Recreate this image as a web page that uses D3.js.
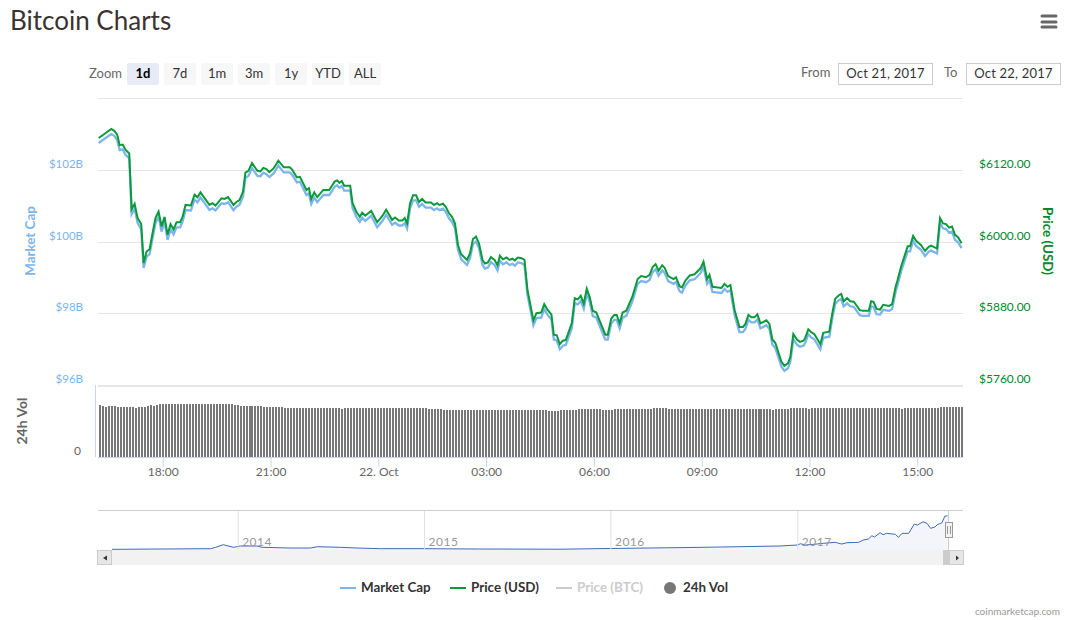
<!DOCTYPE html>
<html>
<head>
<meta charset="utf-8">
<script src="https://d3js.org/d3.v7.min.js"></script>
<style>
  body { margin: 0; background: #fff; }
  text { font-family: "Lato", sans-serif; }
  .grid line { stroke: #e6e6e6; }
  .domain { display: none; }
</style>
</head>
<body>
<div id="chart"></div>
<script>
// minutes after 16:11 on Oct 21 for each point
var minutes = [
  2,12,23,28,33,37,42,47,53,57,62,67,73,77,82,87,92,97,102,107,
  112,117,122,127,132,138,142,147,156,162,167,172,177,187,192,197,207,212,218,227,
  232,237,243,247,252,258,267,272,277,282,287,294,302,311,321,325,333,338,349,353,
  357,362,367,377,387,396,400,404,408,412,422,426,432,438,442,447,457,467,476,482,
  492,497,503,509,513,517,522,527,532,537,542,548,557,562,567,571,577,582,587,592,
  597,602,607,617,622,627,632,637,643,647,652,657,663,668,672,677,683,688,693,697,
  702,708,713,718,728,733,741,746,752,758,762,767,772,777,782,792,797,802,807,812,
  817,822,827,833,848,852,858,863,867,872,877,883,893,902,908,916,922,927,932,937,
  943,947,953,962,966,972,976,982,989,997,1007,1012,1018,1022,1027,1042,1047,1052,1057,1064,
  1072,1078,1082,1087,1092,1097,1102,1107,1117,1122,1127,1132,1142,1147,1153,1157,1162,1168,1173,1179,
  1182,1187,1192,1197,1207,1212,1222,1228,1232,1238,1242,1246,1252,1257,1263,1273,1278,1288,1292,1296,
  1301,1307,1312,1322,1327,1333,1336,1342,1353,1357,1362,1367,1375,1382,1388,1392,1402,1407,1412,1417,
  1422,1427,1432,1437,1443
];

var priceUsd = [
  6174,6181,6189,6186,6179,6162,6163,6154,6148,6055,6064,6040,6030,5965,5984,5988,6015,6041,6051,6026,
  6042,6012,6030,6021,6033,6033,6042,6062,6061,6079,6075,6083,6076,6062,6065,6061,6073,6072,6075,6062,
  6067,6070,6084,6116,6119,6132,6119,6118,6124,6122,6117,6123,6136,6125,6125,6121,6108,6109,6087,6090,
  6072,6083,6075,6087,6087,6101,6103,6099,6102,6094,6094,6065,6051,6042,6049,6044,6052,6033,6044,6054,
  6037,6041,6036,6036,6040,6031,6065,6078,6078,6067,6072,6066,6066,6062,6065,6062,6064,6058,6048,6042,
  6031,5995,5980,5970,5981,6005,6009,5998,5970,5964,5966,5975,5970,5961,5977,5971,5974,5970,5972,5969,
  5974,5973,5970,5920,5869,5881,5882,5896,5886,5879,5845,5844,5829,5835,5836,5864,5906,5904,5910,5897,
  5922,5908,5885,5882,5845,5845,5872,5878,5878,5864,5882,5885,5908,5938,5943,5941,5945,5958,5963,5952,
  5961,5957,5943,5938,5941,5926,5924,5936,5944,5946,5956,5967,5938,5945,5925,5923,5930,5925,5928,5886,
  5858,5858,5863,5878,5874,5874,5879,5864,5869,5863,5837,5831,5800,5793,5797,5808,5846,5837,5833,5835,
  5840,5854,5849,5846,5829,5848,5850,5886,5905,5911,5913,5901,5906,5901,5900,5886,5885,5885,5901,5900,
  5888,5887,5895,5893,5896,5926,5936,5959,5993,5993,6010,6002,5995,5985,5992,5994,5989,6040,6031,6030,
  6024,6026,6012,6008,5998
];

// market cap in billions
var marketCap = [
  102.76,102.88,103.01,102.96,102.84,102.56,102.58,102.43,102.33,100.78,100.93,100.53,100.36,99.28,99.59,99.66,100.11,100.54,100.71,100.29,
  100.56,100.06,100.36,100.21,100.41,100.41,100.56,100.89,100.88,101.18,101.11,101.24,101.13,100.89,100.94,100.88,101.08,101.06,101.11,100.89,
  100.98,101.03,101.26,101.79,101.84,102.06,101.84,101.83,101.93,101.89,101.81,101.91,102.13,101.94,101.94,101.88,101.66,101.68,101.31,101.36,
  101.06,101.24,101.11,101.31,101.31,101.54,101.58,101.51,101.56,101.43,101.43,100.94,100.71,100.56,100.68,100.59,100.73,100.41,100.59,100.76,
  100.48,100.54,100.46,100.46,100.53,100.38,100.94,101.16,101.16,100.98,101.06,100.96,100.96,100.89,100.94,100.89,100.93,100.83,100.66,100.56,
  100.38,99.78,99.53,99.36,99.54,99.94,100.01,99.83,99.36,99.26,99.29,99.44,99.36,99.21,99.48,99.38,99.43,99.36,99.39,99.34,
  99.43,99.41,99.36,98.53,97.68,97.88,97.89,98.13,97.96,97.84,97.28,97.26,97.01,97.11,97.13,97.59,98.29,98.26,98.36,98.14,
  98.56,98.33,97.94,97.89,97.28,97.28,97.73,97.83,97.83,97.59,97.89,97.94,98.33,98.83,98.91,98.88,98.94,99.16,99.24,99.06,
  99.21,99.14,98.91,98.83,98.88,98.63,98.59,98.79,98.93,98.96,99.13,99.31,98.83,98.94,98.61,98.58,98.69,98.61,98.66,97.96,
  97.49,97.49,97.58,97.83,97.76,97.76,97.84,97.59,97.68,97.58,97.14,97.04,96.53,96.41,96.48,96.66,97.29,97.14,97.08,97.11,
  97.19,97.43,97.34,97.29,97.01,97.33,97.36,97.96,98.28,98.38,98.41,98.21,98.29,98.21,98.19,97.96,97.94,97.94,98.21,98.19,
  97.99,97.98,98.11,98.08,98.13,98.63,98.79,99.18,99.74,99.74,100.03,99.89,99.78,99.61,99.73,99.76,99.68,100.53,100.38,100.36,
  100.26,100.29,100.06,99.99,99.83
];

// 24h volume in billions, one bar every five minutes from 16:13
var volume = [
  2.00,1.96,1.93,1.96,1.96,1.96,1.93,1.93,1.93,1.93,
  1.93,1.93,1.89,1.93,1.93,1.93,1.96,2.00,1.96,2.00,
  2.04,2.04,2.04,2.04,2.04,2.04,2.04,2.04,2.04,2.04,
  2.04,2.04,2.04,2.04,2.04,2.04,2.04,2.04,2.04,2.04,
  2.04,2.04,2.04,2.04,2.04,2.00,2.00,1.96,1.96,1.96,
  1.96,1.96,1.96,1.96,1.96,1.93,1.93,1.93,1.93,1.93,
  1.93,1.93,1.89,1.89,1.89,1.89,1.89,1.89,1.89,1.89,
  1.89,1.89,1.89,1.88,1.88,1.88,1.88,1.88,1.88,1.88,
  1.88,1.85,1.88,1.88,1.88,1.88,1.88,1.88,1.88,1.88,
  1.88,1.88,1.88,1.88,1.88,1.88,1.88,1.88,1.88,1.88,
  1.88,1.88,1.88,1.88,1.88,1.88,1.88,1.88,1.88,1.88,
  1.85,1.85,1.85,1.85,1.85,1.81,1.81,1.81,1.81,1.81,
  1.81,1.81,1.81,1.81,1.81,1.81,1.81,1.81,1.81,1.81,
  1.81,1.81,1.81,1.81,1.81,1.81,1.81,1.81,1.81,1.81,
  1.81,1.81,1.81,1.81,1.81,1.81,1.81,1.81,1.81,1.81,
  1.77,1.77,1.77,1.77,1.81,1.81,1.81,1.81,1.81,1.81,
  1.85,1.85,1.85,1.85,1.85,1.85,1.85,1.85,1.81,1.81,
  1.81,1.81,1.85,1.85,1.85,1.85,1.85,1.85,1.85,1.85,
  1.85,1.85,1.85,1.85,1.85,1.89,1.89,1.89,1.89,1.89,
  1.85,1.85,1.85,1.85,1.85,1.85,1.85,1.85,1.85,1.85,
  1.85,1.85,1.85,1.85,1.85,1.85,1.85,1.85,1.85,1.85,
  1.85,1.85,1.85,1.85,1.85,1.85,1.85,1.85,1.85,1.85,
  1.85,1.85,1.85,1.85,1.85,1.81,1.85,1.85,1.85,1.85,
  1.85,1.89,1.89,1.89,1.89,1.89,1.89,1.85,1.89,1.89,
  1.89,1.89,1.89,1.89,1.89,1.89,1.89,1.89,1.89,1.89,
  1.89,1.89,1.89,1.89,1.89,1.89,1.89,1.89,1.89,1.89,
  1.89,1.89,1.89,1.89,1.89,1.89,1.89,1.89,1.85,1.89,
  1.89,1.89,1.89,1.89,1.89,1.89,1.89,1.89,1.89,1.89,
  1.89,1.93,1.93,1.93,1.93,1.93,1.93,1.93,1.93
];

// navigator series, whole history
var navDates = [
  "2013-04-30","2013-11-09","2013-11-19","2013-12-04","2013-12-24","2014-01-07","2014-02-08","2014-02-18","2014-04-15","2014-05-24",
  "2014-06-06","2014-07-21","2014-08-23","2014-10-08","2015-01-01","2015-04-20","2015-09-24","2016-01-01","2016-06-05","2016-08-03",
  "2016-11-28","2017-01-01","2017-01-07","2017-01-17","2017-02-02","2017-02-21","2017-03-16","2017-03-29","2017-04-08","2017-05-01",
  "2017-05-10","2017-05-20","2017-05-27","2017-06-01","2017-06-12","2017-06-18","2017-06-25","2017-07-12","2017-07-18","2017-07-25",
  "2017-08-07","2017-08-18","2017-08-24","2017-09-04","2017-09-12","2017-09-19","2017-09-28","2017-10-02","2017-10-11","2017-10-17",
  "2017-10-22"
];
var navCap = [
  2.0,3.8,7.9,15.5,7.9,11.7,11.7,7.9,5.8,5.8,
  9.6,7.9,5.8,3.8,3.8,2.9,2.3,4.4,7.3,8.7,
  11.7,14.6,18.4,14.6,16.6,19.5,22.4,17.5,21.3,22.4,
  29.2,32.1,41.7,37.9,50.4,44.6,48.7,45.8,37.0,48.7,
  48.7,75.8,72.9,82.5,77.8,63.3,67.9,73.8,79.6,99.1,
  100.0
];

var capTicks = [96, 98, 100, 102];
var priceTicks = [5760, 5880, 6000, 6120, 6240];
var timeTicks = ["10-21T18:00","10-21T21:00","10-22T00:00","10-22T03:00","10-22T06:00","10-22T09:00","10-22T12:00","10-22T15:00"];
var timeLabels = ["18:00","21:00","22. Oct","03:00","06:00","09:00","12:00","15:00"];
var navYears = ["2014","2015","2016","2017"];
var zoomButtons = ["1d","7d","1m","3m","1y","YTD","ALL"];
var legendItems = ["Market Cap","Price (USD)","Price (BTC)","24h Vol"];

var capColor = "#7cb5ec", priceColor = "#0a9a3a", priceText = "#008a2c", volColor = "#777777";

var svg = d3.select("#chart")
  .append("svg")
    .attr("width", 1070)
    .attr("height", 620)
    .style("display", "block");

var left = 98, right = 963;
var startTime = new Date(Date.UTC(2017, 9, 21, 16, 11));

function minutesToDate(m) {
  return new Date(startTime.getTime() + m * 60000);
}
function tickDate(s) {
  return new Date("2017-" + s + ":00Z");
}

var x = d3.scaleUtc()
  .domain([startTime, new Date(Date.UTC(2017, 9, 22, 16, 15, 30))])
  .range([left - 0.5, right - 0.5]);
var yPrice = d3.scaleLinear().domain([5760, 6240]).range([385.5, 98.5]);
var yCap = d3.scaleLinear().domain([96, 104]).range([385.5, 98.5]);
var yVol = d3.scaleLinear().domain([0, 2.77]).range([457, 385]);

// title and menu
svg.append("text").attr("x", 10).attr("y", 30)
  .style("font-size", "26px").style("fill", "#3a3330")
  .text("Bitcoin Charts");
svg.append("g").selectAll("line").data([16, 22, 27]).enter().append("line")
  .attr("x1", 1042).attr("x2", 1056).attr("y1", d => d).attr("y2", d => d)
  .attr("stroke", "#666").attr("stroke-width", 3).attr("stroke-linecap", "round");

// range selector
svg.append("text").attr("x", 89).attr("y", 78).style("font-size", "13px").style("fill", "#666").text("Zoom");
var btn = svg.append("g").selectAll("g").data(zoomButtons).enter().append("g")
  .attr("transform", (d, i) => "translate(" + (127 + i * 37) + ",63)");
btn.append("rect").attr("width", 32).attr("height", 22).attr("rx", 2)
  .attr("fill", (d, i) => i == 0 ? "#e6ebf5" : "#f7f7f7");
btn.append("text").attr("x", 16).attr("y", 15).attr("text-anchor", "middle")
  .style("font-size", "13px").style("font-weight", (d, i) => i == 0 ? "bold" : "normal")
  .style("fill", (d, i) => i == 0 ? "#000" : "#333").text(d => d);

// date inputs
svg.append("text").attr("x", 801).attr("y", 77).style("font-size", "13px").style("fill", "#666").text("From");
svg.append("text").attr("x", 944).attr("y", 77).style("font-size", "13px").style("fill", "#666").text("To");
var boxes = svg.append("g").selectAll("g").data([[838, "Oct 21, 2017"], [966, "Oct 22, 2017"]]).enter().append("g")
  .attr("transform", d => "translate(" + d[0] + ",63)");
boxes.append("rect").attr("x", 0.5).attr("y", 0.5).attr("width", 94).attr("height", 21)
  .attr("fill", "#fff").attr("stroke", "#ccc");
boxes.append("text").attr("x", 47.5).attr("y", 15).attr("text-anchor", "middle")
  .style("font-size", "13px").style("letter-spacing", "0.2px").style("fill", "#333").text(d => d[1]);

// gridlines off the price scale
svg.append("g").attr("class", "grid")
  .attr("transform", "translate(" + left + ",0)")
  .attr("shape-rendering", "crispEdges")
  .call(d3.axisLeft(yPrice).offset(0).tickValues(priceTicks).tickSize(left - right).tickFormat(""));
svg.selectAll(".grid .tick").filter(d => d == 5760).select("line").attr("stroke-width", 2);

// left axis
var capAxis = svg.append("g")
  .attr("transform", "translate(83,0)")
  .call(d3.axisLeft(yCap).tickValues(capTicks).tickSize(0).tickPadding(0).tickFormat(d => "$" + d + "B"));
capAxis.selectAll("text").attr("dy", -3).style("font-size", "11.5px").style("fill", capColor);

// right axis
var priceAxis = svg.append("g")
  .attr("transform", "translate(979,0)")
  .call(d3.axisRight(yPrice).tickValues([5760, 5880, 6000, 6120]).tickSize(0).tickPadding(0).tickFormat(d => "$" + d3.format(".2f")(d)));
priceAxis.selectAll("text").attr("dy", -3).style("font-size", "12px").style("fill", priceText);

svg.append("text").attr("transform", "translate(35,241) rotate(-90)").attr("text-anchor", "middle")
  .style("font-size", "13.4px").style("font-weight", "bold").style("fill", capColor).text("Market Cap");
svg.append("text").attr("transform", "translate(1043,241) rotate(90)").attr("text-anchor", "middle")
  .style("font-size", "13.4px").style("font-weight", "bold").style("fill", priceText).text("Price (USD)");
svg.append("text").attr("transform", "translate(27,421) rotate(-90)").attr("text-anchor", "middle")
  .style("font-size", "14px").style("font-weight", "bold").style("fill", "#666").text("24h Vol");

// lines
var capLine = d3.line().x((d, i) => x(minutesToDate(minutes[i]))).y(d => yCap(d));
var priceLine = d3.line().x((d, i) => x(minutesToDate(minutes[i]))).y(d => yPrice(d));
svg.append("path").attr("d", capLine(marketCap)).attr("fill", "none").attr("stroke", capColor).attr("stroke-width", 2.3);
svg.append("path").attr("d", priceLine(priceUsd)).attr("fill", "none").attr("stroke", priceColor).attr("stroke-width", 2);

// volume bars
svg.append("g").attr("shape-rendering", "crispEdges")
  .selectAll("rect").data(volume).enter().append("rect")
    .attr("x", (d, i) => Math.floor(x(minutesToDate(3 + i * 5))))
    .attr("y", d => yVol(d))
    .attr("width", 2)
    .attr("height", d => yVol(0) - yVol(d))
    .attr("fill", volColor);

var volAxis = svg.append("g")
  .attr("transform", "translate(81,0)")
  .call(d3.axisLeft(yVol).tickValues([0]).tickSize(0).tickPadding(0).tickFormat(d3.format("d")));
volAxis.selectAll("text").attr("dy", -3).style("font-size", "12px").style("fill", "#666");

svg.append("line").attr("x1", 95.5).attr("x2", 95.5).attr("y1", 385).attr("y2", 457).attr("stroke", "#ccd6eb");

// time axis
var timeAxis = svg.append("g")
  .attr("transform", "translate(0,457)")
  .call(d3.axisBottom(x).tickValues(timeTicks.map(tickDate)).tickSize(10).tickPadding(0)
    .tickFormat((d, i) => timeLabels[i]));
timeAxis.selectAll("line").attr("stroke", "#ccd6eb");
timeAxis.selectAll("text").style("font-size", "12px").style("fill", "#666");
svg.append("line").attr("x1", left).attr("x2", right).attr("y1", 457.5).attr("y2", 457.5).attr("stroke", "#ccd6eb");

// navigator
var navX = d3.scaleUtc().domain([new Date("2013-04-30"), new Date("2017-10-23")]).range([112, 948]);
var navY = d3.scaleLinear().domain([0, 114]).range([550, 511]);
var navParsed = navDates.map(d => new Date(d));

svg.append("line").attr("x1", left).attr("x2", right).attr("y1", 510.5).attr("y2", 510.5).attr("stroke", "#ccc");

svg.append("path")
  .attr("d", d3.area().x((d, i) => navX(navParsed[i])).y0(navY(0)).y1(d => navY(d))(navCap))
  .attr("fill", "#f3f5fb");
svg.append("path")
  .attr("d", d3.line().x((d, i) => navX(navParsed[i])).y(d => navY(d))(navCap))
  .attr("fill", "none").attr("stroke", "#3f6ab5").attr("stroke-width", 1);

var navAxis = svg.append("g")
  .attr("transform", "translate(0,550)")
  .call(d3.axisBottom(navX).tickValues(navYears.map(d => new Date(d + "-01-01"))).tickSize(-39).tickPadding(0)
    .tickFormat((d, i) => navYears[i]));
navAxis.selectAll("line").attr("stroke", "#e0e0e0");
navAxis.selectAll("text").attr("text-anchor", "start").attr("x", 4).attr("y", -4).attr("dy", 0)
  .style("font-size", "12px").style("fill", "#999").style("letter-spacing", "0.5px");

// scrollbar
svg.append("rect").attr("x", 112).attr("y", 550).attr("width", 837).attr("height", 15).attr("fill", "#f2f2f2");
svg.append("rect").attr("x", 943).attr("y", 550).attr("width", 6).attr("height", 15).attr("fill", "#ccc");
var arrows = svg.append("g").selectAll("g").data([[97.5, "M107,555.5 L107,560.5 L103,558 Z"], [949.5, "M956,555.5 L956,560.5 L959,558 Z"]]).enter().append("g");
arrows.append("rect").attr("x", d => d[0]).attr("y", 550.5).attr("width", 14).attr("height", 14)
  .attr("fill", "#e6e6e6").attr("stroke", "#ccc");
arrows.append("path").attr("d", d => d[1]).attr("fill", "#333");

// navigator handle
svg.append("line").attr("x1", 948.5).attr("x2", 948.5).attr("y1", 511).attr("y2", 550).attr("stroke", "#ccc");
svg.append("rect").attr("x", 945.5).attr("y", 522.5).attr("width", 7).attr("height", 15)
  .attr("fill", "#f2f2f2").attr("stroke", "#999");
svg.append("g").selectAll("line").data([947.5, 950.5]).enter().append("line")
  .attr("x1", d => d).attr("x2", d => d).attr("y1", 526).attr("y2", 534).attr("stroke", "#999");

// legend
var legendX = [340, 450, 556, 664];
var legendColors = [capColor, priceColor, "#ccc", volColor];
var legend = svg.append("g").selectAll("g").data(legendItems).enter().append("g")
  .attr("transform", (d, i) => "translate(" + legendX[i] + ",588)");
legend.filter((d, i) => i < 3).append("line")
  .attr("x1", 0).attr("x2", 16)
  .attr("stroke", d => legendColors[legendItems.indexOf(d)]).attr("stroke-width", 2);
legend.filter((d, i) => i == 3).append("circle")
  .attr("cx", 6).attr("r", 6).attr("fill", volColor);
legend.append("text").attr("x", (d, i) => i == 3 ? 19 : 21).attr("y", 4)
  .style("font-size", "13.4px").style("font-weight", "bold")
  .style("fill", (d, i) => i == 2 ? "#ccc" : "#333").text(d => d);

svg.append("text").attr("x", 1060).attr("y", 615).attr("text-anchor", "end")
  .style("font-size", "10px").style("fill", "#999").text("coinmarketcap.com");
</script>
</body>
</html>
